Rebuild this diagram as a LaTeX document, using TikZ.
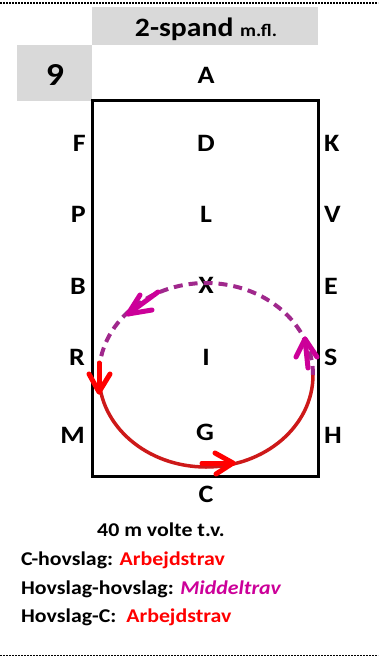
\documentclass[tikz,border=0pt]{standalone}
\usepackage{fontspec}
\setmainfont[FakeStretch=1.12]{Carlito}
\definecolor{boxgray}{RGB}{217,217,217}
\definecolor{trotred}{RGB}{255,0,0}
\definecolor{circred}{RGB}{205,25,25}
\definecolor{circmag}{RGB}{160,40,140}
\definecolor{midmag}{RGB}{204,0,153}

\begin{document}
\begin{tikzpicture}[x=1pt, y=-1pt,
  letter/.style={font=\fontsize{25}{29}\selectfont\bfseries, inner sep=0pt},
  textline/.style={font=\fontsize{19.5}{23}\selectfont\bfseries, anchor=base west, inner sep=0pt},
  arrowpart/.style={line width=5pt, line cap=round, line join=round}]
  \useasboundingbox (0,0) rectangle (378,658);
  % gray header boxes
  \fill[boxgray] (92,7) rectangle (318,45);
  \fill[boxgray] (17,45) rectangle (92,101);
  \node[anchor=base, inner sep=0pt] (title) at (206,37)
    {\fontsize{26.5}{31}\selectfont\bfseries 2-spand \fontsize{17.5}{21}\selectfont m.fl.};
  \node[inner sep=0pt] (nr) at (55,75) {\fontsize{32}{36}\selectfont\bfseries 9};
  % dashed page rules
  \draw[line width=1.5pt, dash pattern=on 2pt off 1pt] (0,3) -- (378,3);
  \draw[line width=1pt, dash pattern=on 2pt off 1pt] (0,655) -- (378,655);
  % arena
  \draw[line width=3pt] (92,101) rectangle (318,476);
  \node[letter] (A) at (206,75) {A};
  \node[letter] (C) at (206,494) {C};
  \node[letter] (D) at (206,143) {D};
  \node[letter] (L) at (206,214) {L};
  \node[letter] (X) at (206,285) {X};
  \node[letter] (I) at (206,357) {I};
  \node[letter] (G) at (205,432) {G};
  \node[letter, anchor=east] (F) at (86,143) {F};
  \node[letter, anchor=east] (P) at (86,214) {P};
  \node[letter, anchor=east] (B) at (86,286) {B};
  \node[letter, anchor=east] (R) at (85,357) {R};
  \node[letter, anchor=east] (M) at (85,435) {M};
  \node[letter, anchor=west] (K) at (324,143) {K};
  \node[letter, anchor=west] (V) at (324,214) {V};
  \node[letter, anchor=west] (E) at (324,286) {E};
  \node[letter, anchor=west] (S) at (324,357) {S};
  \node[letter, anchor=west] (H) at (324,435) {H};
  % volte
  \coordinate (ctr) at (206,375);
  \draw[circmag, line width=4pt, dash pattern=on 9pt off 6pt]
    ([shift={(0:107pt and 92pt)}]ctr) arc[start angle=0, end angle=180, x radius=107pt, y radius=92pt];
  \draw[circred, line width=3.5pt]
    ([shift={(180:107pt and 92pt)}]ctr) arc[start angle=180, end angle=360, x radius=107pt, y radius=92pt];
  % direction marks
  \coordinate (ulTip) at (128,314);
  \coordinate (ulStem) at (158,292);
  \draw[arrowpart, midmag] (ulStem) -- (ulTip);
  \draw[arrowpart, midmag] (140,295) -- (ulTip) -- (152,310);
  \coordinate (rTip) at (305,339);
  \coordinate (rStem) at (308,368);
  \draw[arrowpart, midmag] (rStem) -- (rTip);
  \draw[arrowpart, midmag] (296,357) -- (rTip) -- (317,357);
  \coordinate (bTip) at (233,463);
  \coordinate (bStem) at (202,463);
  \draw[arrowpart, trotred] (bStem) -- (bTip);
  \draw[arrowpart, trotred] (215,453) -- (bTip) -- (216,474);
  \coordinate (lTip) at (99,392);
  \coordinate (lStem) at (99,363);
  \draw[arrowpart, trotred] (lStem) -- (lTip);
  \draw[arrowpart, trotred] (89,374) -- (lTip) -- (110,374);
  % description
  \node[textline] (volte) at (97,536) {40 m volte t.v.};
  \node[textline] (line1) at (21,565) {C-hovslag: \textcolor{trotred}{Arbejdstrav}};
  \node[textline] (line2) at (21,594) {Hovslag-hovslag: \textcolor{midmag}{\itshape Middeltrav}};
  \node[textline] (line3) at (21,622) {Hovslag-C:\ \ \textcolor{trotred}{Arbejdstrav}};
\end{tikzpicture}
\end{document}
